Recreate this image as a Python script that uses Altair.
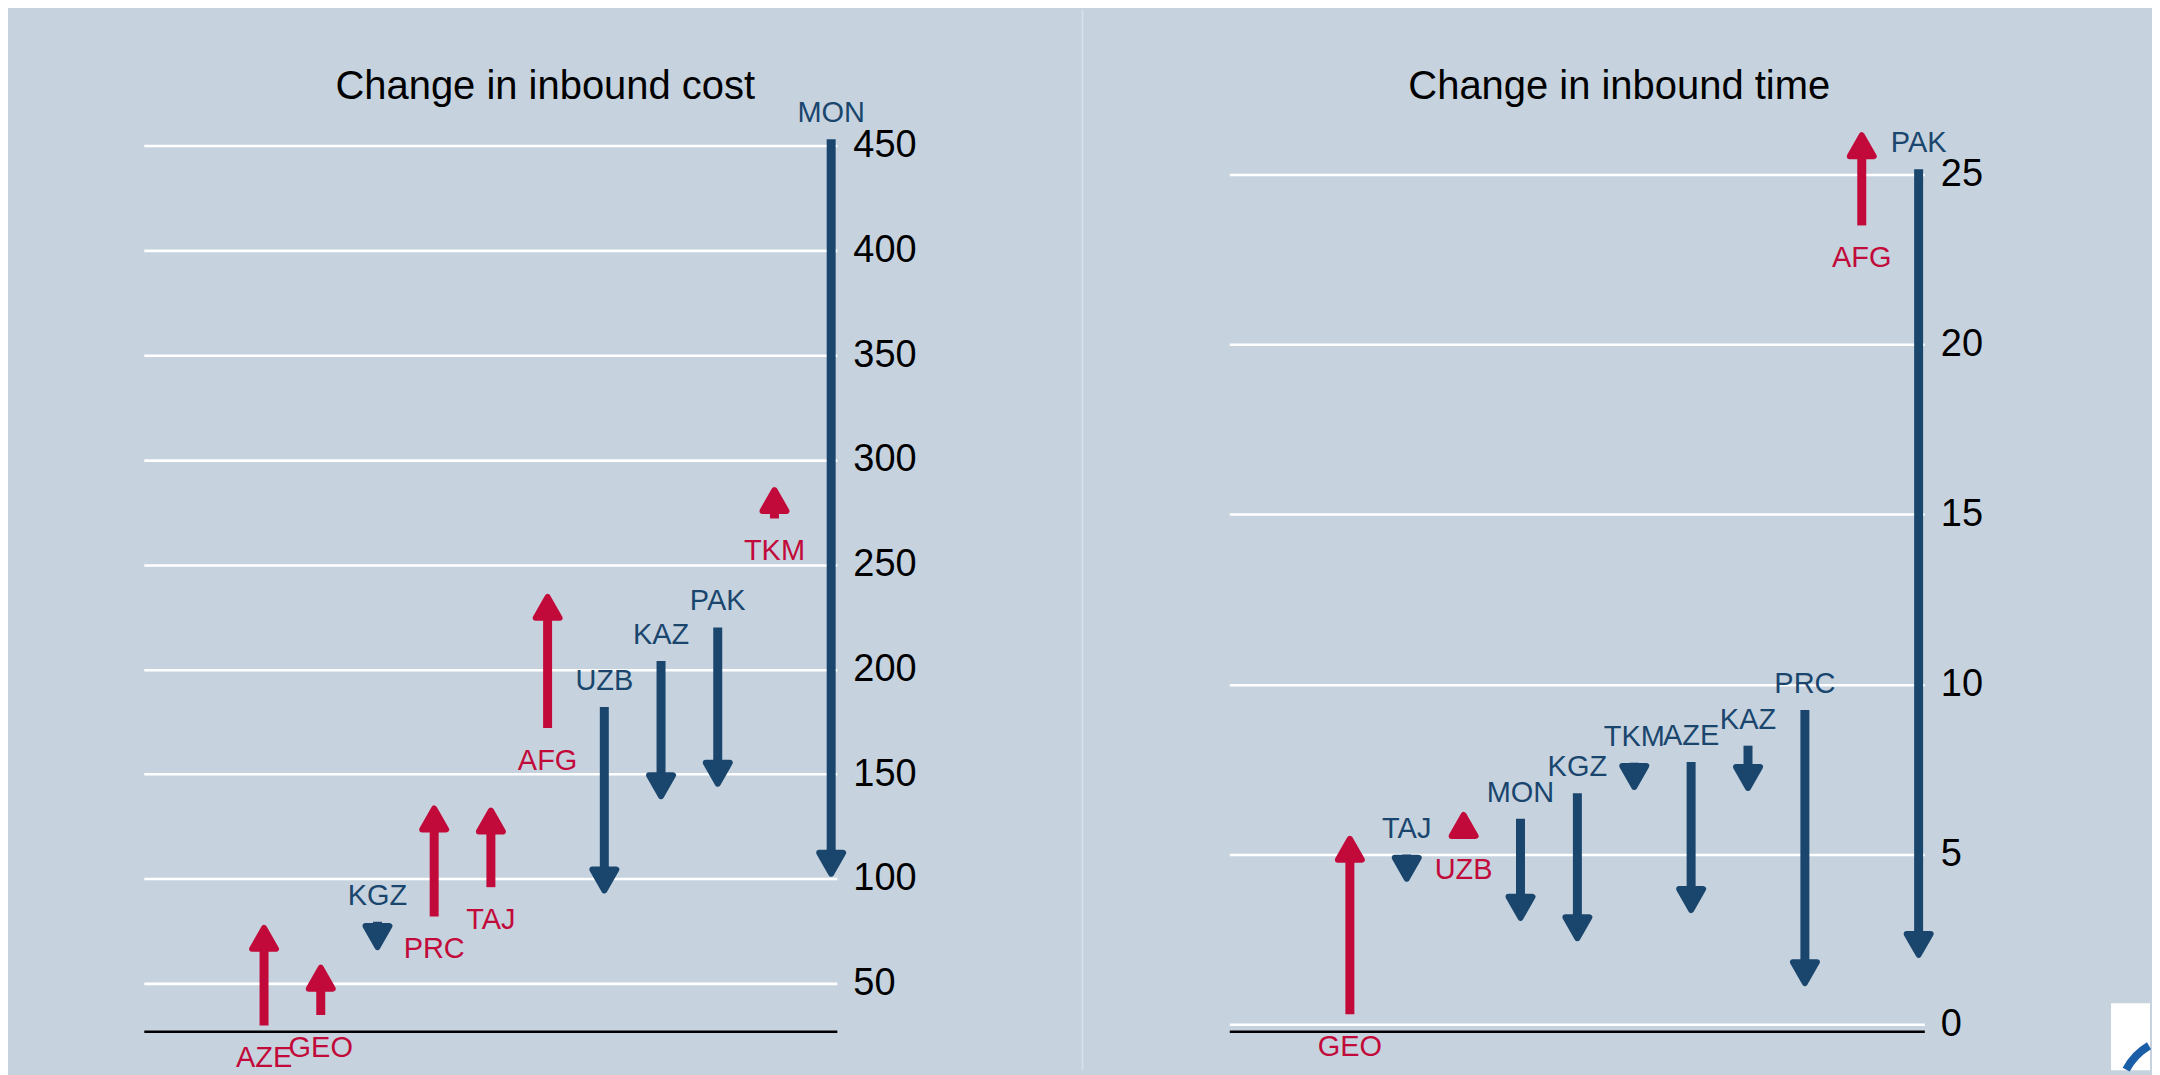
import altair as alt
import pandas as pd

# ---------------- data ----------------
cost_countries = ["AZE", "GEO", "KGZ", "PRC", "TAJ", "AFG", "UZB", "KAZ", "PAK", "TKM", "MON"]
cost_before = [30, 35, 79.5, 82, 96, 172, 182, 204, 220, 272, 453]
cost_after = [78, 59, 66, 135, 134, 236, 93, 138, 144, 287, 101]
cost_ticks = [50, 100, 150, 200, 250, 300, 350, 400, 450]

time_countries = ["GEO", "TAJ", "UZB", "MON", "KGZ", "TKM", "AZE", "KAZ", "PRC", "AFG", "PAK"]
time_before = [0.3, 5.0, 5.5, 6.05, 6.8, 7.7, 7.72, 8.2, 9.25, 23.5, 25.15]
time_after = [5.55, 4.2, 6.25, 3.05, 2.45, 6.9, 3.28, 6.87, 1.13, 26.24, 1.96]
time_ticks = [0, 5, 10, 15, 20, 25]

# ---------------- style ----------------
RED = "#C20A3A"
BLUE = "#1A466E"
BG = "#C6D3DF"
DIVIDER = "#D7E1EA"
FONT = "Liberation Sans"

PLOT_H = 901
HEAD_BACK_PX = 14
UP_PATH = "M0,0.25L1,2.0L-1,2.0Z"
DOWN_PATH = "M0,-0.25L1,-2.0L-1,-2.0Z"

one = pd.DataFrame({"k": [0]})


def panel(countries, before, after, ydom, ticks, title, width, title_dx, title_dy, extra):
    df = pd.DataFrame({
        "country": countries,
        "pos": list(range(1, len(countries) + 1)),
        "v0": before,
        "v1": after,
    })
    px_per_unit = PLOT_H / (ydom[1] - ydom[0])
    back = HEAD_BACK_PX / px_per_unit

    base = alt.Chart(df).transform_calculate(
        dir="datum.v1 > datum.v0 ? 'up' : 'down'",
        shaft_end=f"datum.v1 > datum.v0 ? datum.v1 - {back} : datum.v1 + {back}",
    )
    xscale = alt.Scale(domain=[-1.12, 11.1], nice=False, zero=False)
    yscale = alt.Scale(domain=ydom, nice=False, zero=False)
    x = alt.X("pos:Q", scale=xscale, title=None,
              axis=alt.Axis(orient="bottom", labels=False, ticks=False, grid=False,
                            domain=True, domainColor="black", domainWidth=2.5))
    y = alt.Y("v0:Q", scale=yscale, title=None,
              axis=alt.Axis(orient="right", values=ticks, domain=False, ticks=False,
                            labelPadding=16, labelFontSize=38, labelColor="black",
                            labelFont=FONT, labelFlush=False, labelOverlap=False,
                            labelAlign="left", labelBaseline="middle",
                            grid=True, gridColor="white", gridWidth=2.6))
    dscale = alt.Scale(domain=["up", "down"], range=[RED, BLUE])
    color = alt.Color("dir:N", scale=dscale, legend=None)

    shafts = base.mark_rule(strokeWidth=9, strokeCap="butt").encode(
        x=x, y=y, y2="shaft_end:Q", color=color)
    heads = base.mark_point(filled=True, size=576, strokeWidth=6, strokeJoin="round",
                            opacity=1).encode(
        x=alt.X("pos:Q", title=None),
        y=alt.Y("v1:Q", title=None),
        shape=alt.Shape("dir:N", scale=alt.Scale(domain=["up", "down"],
                                                 range=[UP_PATH, DOWN_PATH]), legend=None),
        fill=alt.Fill("dir:N", scale=dscale, legend=None),
        stroke=alt.Stroke("dir:N", scale=dscale, legend=None),
    )
    lab_up = base.transform_filter("datum.dir == 'up'").mark_text(
        dy=33, fontSize=29, font=FONT, align="center", baseline="middle").encode(
        x=alt.X("pos:Q", title=None), y=alt.Y("v0:Q", title=None),
        text="country:N", color=color)
    lab_down = base.transform_filter("datum.dir == 'down'").mark_text(
        dy=-26, fontSize=29, font=FONT, align="center", baseline="middle").encode(
        x=alt.X("pos:Q", title=None), y=alt.Y("v0:Q", title=None),
        text="country:N", color=color)

    layers = [*extra, shafts, heads, lab_up, lab_down]
    return alt.layer(*layers).properties(
        width=width, height=PLOT_H,
        title=alt.TitleParams(title, fontSize=40, font=FONT, fontWeight="normal",
                              color="black", anchor="middle", frame="group",
                              offset=0, dx=title_dx, dy=title_dy, baseline="alphabetic"),
    )


# frame helpers (decoration: page edge, panel divider, corner logo)
left_edge = alt.Chart(one).mark_rule(color=BG, strokeWidth=1).encode(
    x=alt.value(-135), y=alt.value(-122), y2=alt.value(940))
divider = alt.Chart(one).mark_rule(color=DIVIDER, strokeWidth=1.5).encode(
    x=alt.value(-147), y=alt.value(-122), y2=alt.value(940))
logo_box = alt.Chart(one).mark_rect(color="white").encode(
    x=alt.value(883), x2=alt.value(922), y=alt.value(873), y2=alt.value(940))
logo_arc = alt.Chart(one).mark_arc(color="#1B5EA8", radius=65, radius2=57,
                                   theta=5.2, theta2=5.75).encode(
    x=alt.value(952), y=alt.value(968))

left = panel(cost_countries, cost_before, cost_after, [27.2, 456.7], cost_ticks,
             "Change in inbound cost", 694, 55, 130, [left_edge])
right = panel(time_countries, time_before, time_after, [-0.2, 26.26], time_ticks,
              "Change in inbound time", 696, 42.5, 130, [divider, logo_box, logo_arc])

chart = alt.hconcat(left, right, spacing=393, bounds="flush").properties(
    background=BG,
    padding={"left": 0, "top": 0, "right": 0, "bottom": 0},
).configure_view(stroke=None)

chart.save("out.html", embed_options={"renderer": "svg", "actions": False})
